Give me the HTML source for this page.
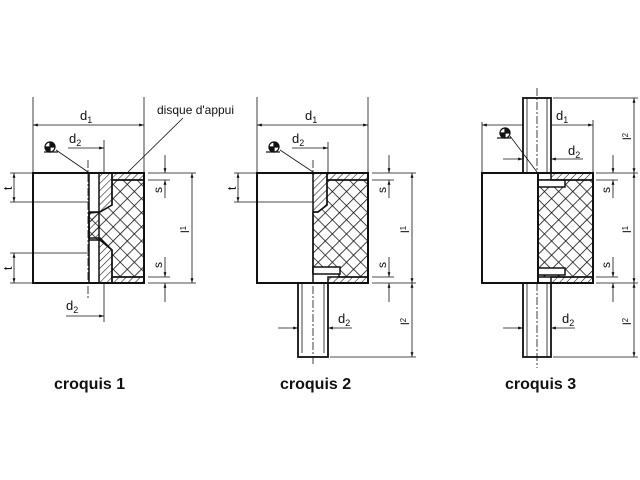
<!DOCTYPE html>
<html><head><meta charset="utf-8"><style>
html,body{margin:0;padding:0;background:#fff}
svg{display:block}
text{font-family:"Liberation Sans",sans-serif;fill:#111}
</style></head><body>
<svg width="640" height="480" viewBox="0 0 640 480" xmlns="http://www.w3.org/2000/svg">
<defs>
<pattern id="x" width="10" height="10" patternUnits="userSpaceOnUse" patternTransform="rotate(45)">
<path d="M0,0H10M0,0V10" stroke="#111" stroke-width="1.6"/>
</pattern>
<pattern id="h" width="5" height="5" patternUnits="userSpaceOnUse" patternTransform="rotate(45)">
<path d="M0,0V5" stroke="#111" stroke-width="1.1"/>
</pattern>
<marker id="a" viewBox="0 0 10 10" refX="10" refY="5" markerWidth="6" markerHeight="6" orient="auto-start-reverse"><path d="M0,2L10,5L0,8z" fill="#111"/></marker>
</defs>
<g stroke="#111" fill="none" stroke-width="0.8">
<!-- ===== croquis 1 ===== -->
<rect x="33" y="173" width="111" height="110" stroke-width="2" fill="#fff"/>
<path d="M99,173H112V205L100,212H89V238H100L112,250V283H99Z" fill="url(#h)" stroke-width="1.5"/>
<path d="M112,180H144V277H112V250L100,240H89V213L100,212L112,205Z" fill="url(#x)" stroke-width="1.5"/>
<rect x="112" y="173" width="32" height="7" fill="url(#h)" stroke-width="1.5"/>
<rect x="112" y="277" width="32" height="6" fill="url(#h)" stroke-width="1.5"/>
<rect x="33" y="173" width="111" height="110" stroke-width="2"/>
<line x1="89" y1="173" x2="89" y2="283" stroke-width="1.5"/>
<line x1="88" y1="160" x2="88" y2="300" stroke-dasharray="8,2,2,2"/>
<line x1="33" y1="97" x2="33" y2="173"/><line x1="144" y1="97" x2="144" y2="173"/>
<line x1="33" y1="125" x2="144" y2="125" marker-start="url(#a)" marker-end="url(#a)"/>
<line x1="104" y1="140" x2="104" y2="173"/>
<line x1="68" y1="148" x2="104" y2="148" marker-end="url(#a)"/>
<line x1="104" y1="283" x2="104" y2="322"/>
<line x1="66" y1="316" x2="104" y2="316" marker-end="url(#a)"/>
<line x1="10" y1="202" x2="89" y2="202"/><line x1="10" y1="253" x2="89" y2="253"/>
<line x1="14" y1="173" x2="14" y2="202" marker-start="url(#a)" marker-end="url(#a)"/>
<line x1="14" y1="253" x2="14" y2="283" marker-start="url(#a)" marker-end="url(#a)"/>
<line x1="10" y1="173" x2="33" y2="173"/><line x1="10" y1="283" x2="33" y2="283"/>
<line x1="148" y1="173" x2="196" y2="173"/><line x1="148" y1="283" x2="196" y2="283"/>
<line x1="148" y1="180" x2="170" y2="180"/><line x1="148" y1="277" x2="170" y2="277"/>
<line x1="165" y1="155" x2="165" y2="173" marker-end="url(#a)"/><line x1="165" y1="198" x2="165" y2="180" marker-end="url(#a)"/>
<line x1="165" y1="257" x2="165" y2="277" marker-end="url(#a)"/><line x1="165" y1="302" x2="165" y2="283" marker-end="url(#a)"/>
<line x1="192" y1="173" x2="192" y2="283" marker-start="url(#a)" marker-end="url(#a)"/>
<line x1="44" y1="152" x2="58" y2="152" stroke-width="1.2"/>
<line x1="56" y1="150" x2="88" y2="172"/>
<line x1="183" y1="118" x2="128" y2="172"/>
<!-- ===== croquis 2 ===== -->
<rect x="298" y="283" width="30" height="74" fill="#fff" stroke-width="1.8"/>
<line x1="302" y1="283" x2="302" y2="353"/><line x1="324" y1="283" x2="324" y2="353"/>
<path d="M313,173H327V205L318,212H313" fill="url(#h)" stroke-width="1.5"/>
<path d="M327,180H368V277H339V273H313V212H318L327,205Z" fill="url(#x)" stroke-width="1.5"/>
<rect x="313" y="267" width="27" height="7" fill="#fff" stroke-width="1.5"/>
<rect x="327" y="173" width="41" height="7" fill="url(#h)" stroke-width="1.5"/>
<rect x="328" y="277" width="40" height="6" fill="url(#h)" stroke-width="1.5"/>
<rect x="257" y="173" width="111" height="110" stroke-width="2"/>
<line x1="313" y1="173" x2="313" y2="283" stroke-width="1.5"/>
<line x1="313" y1="160" x2="313" y2="365" stroke-dasharray="8,2,2,2"/>
<line x1="257" y1="97" x2="257" y2="173"/><line x1="368" y1="97" x2="368" y2="173"/>
<line x1="257" y1="125" x2="368" y2="125" marker-start="url(#a)" marker-end="url(#a)"/>
<line x1="328" y1="142" x2="328" y2="173"/>
<line x1="292" y1="148" x2="328" y2="148" marker-end="url(#a)"/>
<line x1="278" y1="328" x2="298" y2="328" marker-end="url(#a)"/>
<line x1="352" y1="328" x2="328" y2="328" marker-end="url(#a)"/>
<line x1="234" y1="202" x2="313" y2="202"/>
<line x1="238" y1="173" x2="238" y2="202" marker-start="url(#a)" marker-end="url(#a)"/>
<line x1="234" y1="173" x2="257" y2="173"/>
<line x1="372" y1="173" x2="416" y2="173"/><line x1="372" y1="283" x2="416" y2="283"/>
<line x1="330" y1="357" x2="416" y2="357"/>
<line x1="372" y1="180" x2="394" y2="180"/><line x1="372" y1="277" x2="394" y2="277"/>
<line x1="389" y1="155" x2="389" y2="173" marker-end="url(#a)"/><line x1="389" y1="198" x2="389" y2="180" marker-end="url(#a)"/>
<line x1="389" y1="257" x2="389" y2="277" marker-end="url(#a)"/><line x1="389" y1="302" x2="389" y2="283" marker-end="url(#a)"/>
<line x1="412" y1="173" x2="412" y2="283" marker-start="url(#a)" marker-end="url(#a)"/>
<line x1="412" y1="283" x2="412" y2="357" marker-start="url(#a)" marker-end="url(#a)"/>
<line x1="266" y1="152" x2="280" y2="152" stroke-width="1.2"/>
<line x1="280" y1="150" x2="313" y2="172"/>
<!-- ===== croquis 3 ===== -->
<rect x="523" y="98" width="28" height="75" fill="#fff" stroke-width="1.8"/>
<rect x="523" y="283" width="28" height="74" fill="#fff" stroke-width="1.8"/>
<line x1="527" y1="98" x2="527" y2="173"/><line x1="547" y1="98" x2="547" y2="173"/>
<line x1="527" y1="283" x2="527" y2="357"/><line x1="547" y1="283" x2="547" y2="357"/>
<path d="M538,180H593V277H538Z" fill="url(#x)" stroke-width="1.5"/>
<rect x="538" y="180" width="27" height="7" fill="#fff" stroke-width="1.5"/>
<rect x="538" y="268" width="27" height="7" fill="#fff" stroke-width="1.5"/>
<rect x="551" y="173" width="42" height="7" fill="url(#h)" stroke-width="1.5"/>
<rect x="551" y="277" width="42" height="6" fill="url(#h)" stroke-width="1.5"/>
<rect x="482" y="173" width="56" height="110" fill="#fff" stroke-width="2"/>
<path d="M538,173H593V283H538" stroke-width="2"/>
<line x1="537" y1="88" x2="537" y2="173" stroke-dasharray="8,2,2,2"/>
<line x1="537" y1="283" x2="537" y2="368" stroke-dasharray="8,2,2,2"/>
<line x1="482" y1="122" x2="482" y2="173"/><line x1="593" y1="120" x2="593" y2="173"/>
<line x1="482" y1="125" x2="523" y2="125" marker-start="url(#a)"/>
<line x1="551" y1="125" x2="593" y2="125" marker-end="url(#a)"/>
<line x1="503" y1="159" x2="523" y2="159" marker-end="url(#a)"/>
<line x1="583" y1="159" x2="551" y2="159" marker-end="url(#a)"/>
<line x1="503" y1="328" x2="523" y2="328" marker-end="url(#a)"/>
<line x1="575" y1="328" x2="551" y2="328" marker-end="url(#a)"/>
<line x1="553" y1="98" x2="638" y2="98"/><line x1="553" y1="357" x2="638" y2="357"/>
<line x1="596" y1="173" x2="638" y2="173"/><line x1="596" y1="283" x2="638" y2="283"/>
<line x1="596" y1="180" x2="618" y2="180"/><line x1="596" y1="277" x2="618" y2="277"/>
<line x1="613" y1="155" x2="613" y2="173" marker-end="url(#a)"/><line x1="613" y1="198" x2="613" y2="180" marker-end="url(#a)"/>
<line x1="613" y1="257" x2="613" y2="277" marker-end="url(#a)"/><line x1="613" y1="302" x2="613" y2="283" marker-end="url(#a)"/>
<line x1="634" y1="98" x2="634" y2="173" marker-start="url(#a)" marker-end="url(#a)"/>
<line x1="634" y1="173" x2="634" y2="283" marker-start="url(#a)" marker-end="url(#a)"/>
<line x1="634" y1="283" x2="634" y2="357" marker-start="url(#a)" marker-end="url(#a)"/>
<line x1="497" y1="138" x2="511" y2="138" stroke-width="1.2"/>
<line x1="510" y1="136" x2="537" y2="172"/>
</g>
<g stroke="#111" stroke-width="1.2">
<circle cx="50" cy="147" r="5" fill="#fff"/><path d="M50,142A5,5 0 0 1 55,147H50ZM50,152A5,5 0 0 1 45,147H50Z" fill="#111"/>
<circle cx="274" cy="147" r="5" fill="#fff"/><path d="M274,142A5,5 0 0 1 279,147H274ZM274,152A5,5 0 0 1 269,147H274Z" fill="#111"/>
<circle cx="505" cy="133" r="5" fill="#fff"/><path d="M505,128A5,5 0 0 1 510,133H505ZM505,138A5,5 0 0 1 500,133H505Z" fill="#111"/>
</g>
<g font-size="13">
<text x="80" y="120">d<tspan font-size="9" dy="3">1</tspan></text>
<text x="69" y="143">d<tspan font-size="9" dy="3">2</tspan></text>
<text x="66" y="310">d<tspan font-size="9" dy="3">2</tspan></text>
<text x="157" y="114" font-size="12">disque  d'appui</text>
<text x="305" y="120">d<tspan font-size="9" dy="3">1</tspan></text>
<text x="292" y="143">d<tspan font-size="9" dy="3">2</tspan></text>
<text x="338" y="323">d<tspan font-size="9" dy="3">2</tspan></text>
<text x="556" y="120">d<tspan font-size="9" dy="3">1</tspan></text>
<text x="568" y="155">d<tspan font-size="9" dy="3">2</tspan></text>
<text x="562" y="323">d<tspan font-size="9" dy="3">2</tspan></text>
</g>
<g font-size="12">
<text transform="translate(12,190) rotate(-90)">t</text>
<text transform="translate(12,270) rotate(-90)">t</text>
<text transform="translate(236,190) rotate(-90)">t</text>
<text transform="translate(162,193) rotate(-90)">s</text>
<text transform="translate(162,268) rotate(-90)">s</text>
<text transform="translate(386,193) rotate(-90)">s</text>
<text transform="translate(386,268) rotate(-90)">s</text>
<text transform="translate(610,193) rotate(-90)">s</text>
<text transform="translate(610,268) rotate(-90)">s</text>
<text transform="translate(189,233) rotate(-90)">l<tspan font-size="8" dy="-3">1</tspan></text>
<text transform="translate(409,233) rotate(-90)">l<tspan font-size="8" dy="-3">1</tspan></text>
<text transform="translate(631,233) rotate(-90)">l<tspan font-size="8" dy="-3">1</tspan></text>
<text transform="translate(409,325) rotate(-90)">l<tspan font-size="8" dy="-3">2</tspan></text>
<text transform="translate(631,140) rotate(-90)">l<tspan font-size="8" dy="-3">2</tspan></text>
<text transform="translate(631,325) rotate(-90)">l<tspan font-size="8" dy="-3">2</tspan></text>
</g>
<g font-size="16" font-weight="bold">
<text x="54" y="389">croquis 1</text>
<text x="280" y="389">croquis 2</text>
<text x="505" y="389">croquis 3</text>
</g>
</svg>
</body></html>
